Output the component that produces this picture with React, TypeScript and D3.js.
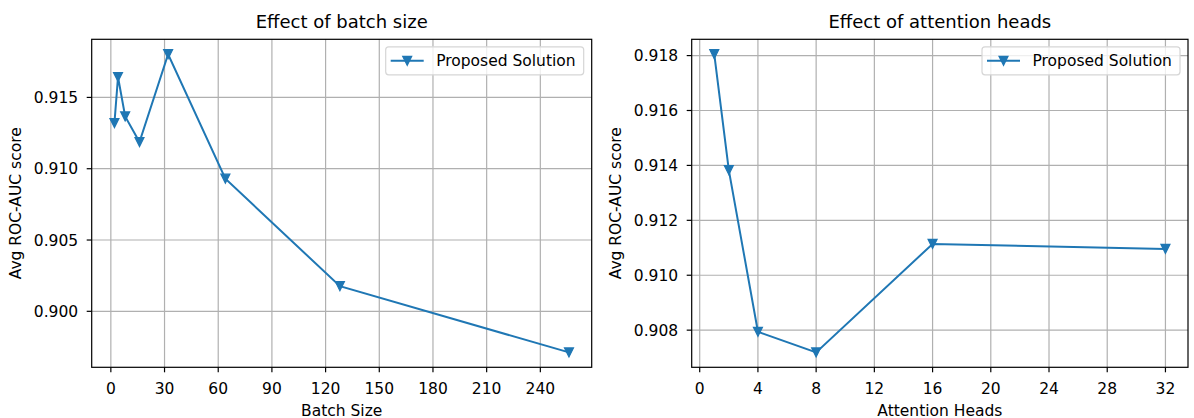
import React from 'react';
import * as d3 from 'd3';

// values
const batchSizes = [2, 4, 8, 16, 32, 64, 128, 256];
const batchScores = [0.9132, 0.91643, 0.91367, 0.91187, 0.91803, 0.9093, 0.90176, 0.89712];
const batchXTicks = [0, 30, 60, 90, 120, 150, 180, 210, 240];
const batchYTicks = [0.9, 0.905, 0.91, 0.915];

const heads = [1, 2, 4, 8, 16, 32];
const headScores = [0.91805, 0.91383, 0.90794, 0.90719, 0.91114, 0.91096];
const headXTicks = [0, 4, 8, 12, 16, 20, 24, 28, 32];
const headYTicks = [0.908, 0.91, 0.912, 0.914, 0.916, 0.918];

const seriesName = 'Proposed Solution';
const blue = '#1f77b4';
const font = 'DejaVu Sans, sans-serif';
const fs = 15.5;

// matplotlib style 5% margin
function padded(vals: number[]): [number, number] {
  const [lo, hi] = d3.extent(vals) as [number, number];
  const m = (hi - lo) * 0.05;
  return [lo - m, hi + m];
}

function Marker({ x, y }: { x: number; y: number }) {
  const h = 4.5;
  return (
    <path
      d={`M${x},${y + h}L${x - h},${y - h}L${x + h},${y - h}Z`}
      fill={blue}
      stroke={blue}
      strokeWidth={1.2}
      strokeLinejoin="miter"
    />
  );
}

function Panel({
  left, right, top, bottom, xs, ys, xTicks, yTicks, yFmt, title, xLabel, yLabelX,
}: {
  left: number; right: number; top: number; bottom: number;
  xs: number[]; ys: number[]; xTicks: number[]; yTicks: number[];
  yFmt: string; title: string; xLabel: string; yLabelX: number;
}) {
  const x = d3.scaleLinear().domain(padded(xs)).range([left, right]);
  const y = d3.scaleLinear().domain(padded(ys)).range([bottom, top]);
  const pts = xs.map((v, i) => [v, ys[i]] as [number, number]);
  const line = d3.line<[number, number]>().x((d) => x(d[0])).y((d) => y(d[1]));
  const fmt = d3.format(yFmt);
  const cx = (left + right) / 2;
  const cy = (top + bottom) / 2;
  const legR = right - 8;
  const legL = legR - 198;
  const legT = top + 7.5;

  return (
    <g>
      {/* grid */}
      {xTicks.map((t) => (
        <line key={'gx' + t} x1={x(t)} x2={x(t)} y1={top} y2={bottom} stroke="#b0b0b0" strokeWidth={1.2} />
      ))}
      {yTicks.map((t) => (
        <line key={'gy' + t} x1={left} x2={right} y1={y(t)} y2={y(t)} stroke="#b0b0b0" strokeWidth={1.2} />
      ))}

      {/* series */}
      <path d={line(pts) || ''} fill="none" stroke={blue} strokeWidth={2} />
      {pts.map((p, i) => (
        <Marker key={i} x={x(p[0])} y={y(p[1])} />
      ))}

      {/* frame */}
      <rect x={left} y={top} width={right - left} height={bottom - top} fill="none" stroke="#000" strokeWidth={1.2} />

      {/* ticks */}
      {xTicks.map((t) => (
        <g key={'tx' + t}>
          <line x1={x(t)} x2={x(t)} y1={bottom} y2={bottom + 5} stroke="#000" strokeWidth={1.2} />
          <text x={x(t)} y={393.5} textAnchor="middle" fontSize={fs} fontFamily={font}>{t}</text>
        </g>
      ))}
      {yTicks.map((t) => (
        <g key={'ty' + t}>
          <line x1={left - 5} x2={left} y1={y(t)} y2={y(t)} stroke="#000" strokeWidth={1.2} />
          <text x={left - 13.5} y={y(t)} dy="0.36em" textAnchor="end" fontSize={fs} fontFamily={font}>{fmt(t)}</text>
        </g>
      ))}

      {/* labels */}
      <text x={cx} y={28} textAnchor="middle" fontSize={18} fontFamily={font}>{title}</text>
      <text x={cx} y={415.5} textAnchor="middle" fontSize={fs} fontFamily={font}>{xLabel}</text>
      <text
        transform={`translate(${yLabelX},${cy}) rotate(-90)`}
        textAnchor="middle"
        fontSize={fs}
        fontFamily={font}
      >
        Avg ROC-AUC score
      </text>

      {/* legend */}
      <rect x={legL} y={legT} width={legR - legL} height={28} rx={3} fill="#fff" fillOpacity={0.8} stroke="#d6d6d6" strokeWidth={1.2} />
      <line x1={legL + 5} x2={legL + 38} y1={legT + 14} y2={legT + 14} stroke={blue} strokeWidth={2} />
      <Marker x={legL + 21.5} y={legT + 14} />
      <text x={legL + 50.5} y={legT + 19.5} fontSize={fs} fontFamily={font}>{seriesName}</text>
    </g>
  );
}

export default function App() {
  return (
    <svg
      width={1194}
      height={418}
      style={{ position: 'absolute', left: 0, top: 0, background: '#fff' }}
    >
      <rect width={1194} height={418} fill="#fff" />
      <Panel
        left={91.7} right={591.7} top={39.3} bottom={367.3}
        xs={batchSizes} ys={batchScores} xTicks={batchXTicks} yTicks={batchYTicks}
        yFmt=".3f" title="Effect of batch size" xLabel="Batch Size" yLabelX={21}
      />
      <Panel
        left={691.7} right={1188} top={39.3} bottom={367.3}
        xs={heads} ys={headScores} xTicks={headXTicks} yTicks={headYTicks}
        yFmt=".3f" title="Effect of attention heads" xLabel="Attention Heads" yLabelX={621}
      />
    </svg>
  );
}
